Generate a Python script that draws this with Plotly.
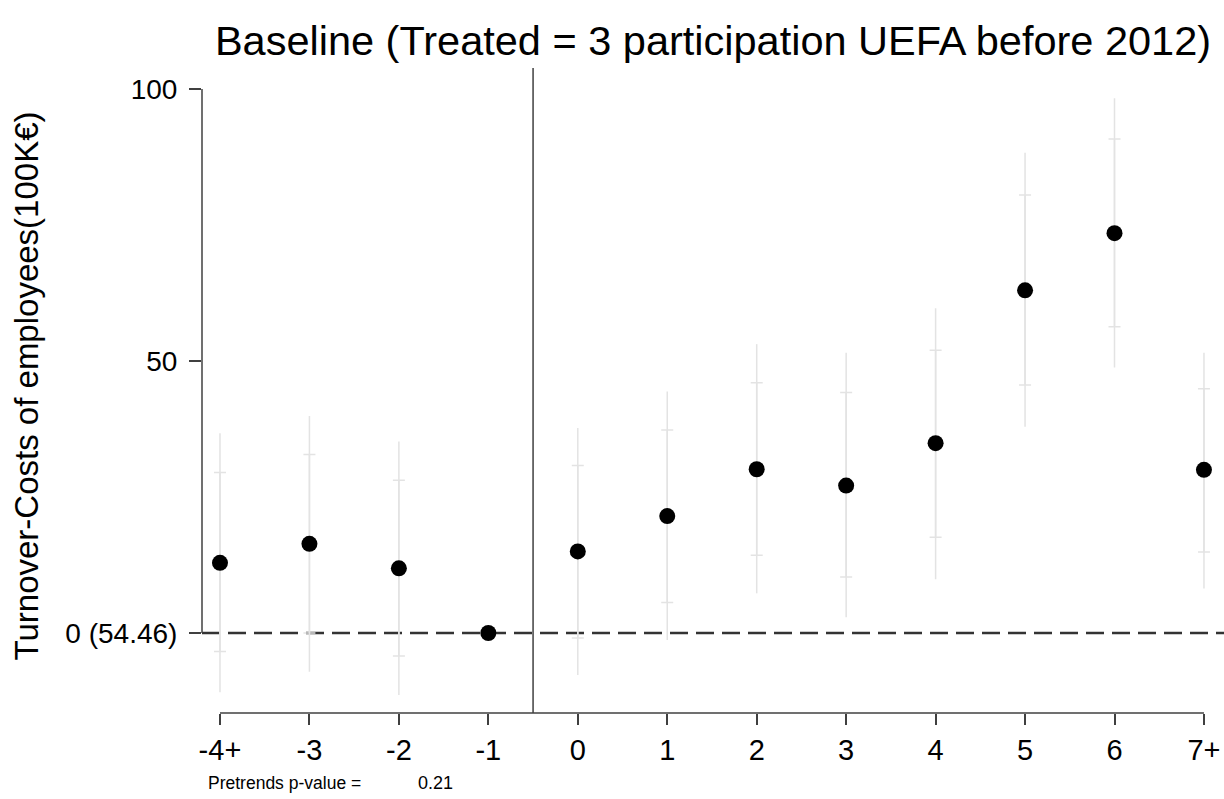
import plotly.graph_objects as go

# Event-time categories (relative to treatment)
periods = ["-4+", "-3", "-2", "-1", "0", "1", "2", "3", "4", "5", "6", "7+"]

# Point estimates (relative to baseline mean 54.46)
estimates = [12.9, 16.4, 11.9, 0.0, 15.0, 21.5, 30.1, 27.1, 34.9, 63.0, 73.5, 30.0]

# Outer confidence interval (no caps)
ci_outer_lo = [-10.9, -7.1, -11.4, 0.0, -7.7, -1.3, 7.3, 2.9, 9.9, 37.9, 48.8, 8.2]
ci_outer_hi = [36.7, 39.9, 35.2, 0.0, 37.7, 44.4, 53.1, 51.5, 59.7, 88.3, 98.3, 51.5]

# Inner confidence interval (capped)
ci_inner_lo = [-3.4, 0.0, -4.2, 0.0, -0.9, 5.6, 14.3, 10.3, 17.6, 45.6, 56.3, 14.9]
ci_inner_hi = [29.5, 32.8, 28.1, 0.0, 30.8, 37.3, 46.0, 44.2, 52.0, 80.5, 90.8, 44.9]

y_ticks = [0, 50, 100]
y_tick_labels = ["0 (54.46)", "50", "100"]

title_text = "Baseline (Treated = 3 participation UEFA before 2012)"
y_title = "Turnover-Costs of employees(100K€)"
pretrend_label = "Pretrends p-value ="
pretrend_value = "0.21"

FONT = "Liberation Sans, Arial, Helvetica, sans-serif"
AXIS_COLOR = "#404040"
CI_COLOR = "#e3e3e3"

xs = list(range(len(periods)))
fig = go.Figure()

fig.add_trace(go.Scatter(
    x=xs, y=estimates, mode="markers",
    marker=dict(size=16, color="black", opacity=0),
    error_y=dict(
        type="data", symmetric=False,
        array=[h - e for h, e in zip(ci_outer_hi, estimates)],
        arrayminus=[e - l for l, e in zip(ci_outer_lo, estimates)],
        color=CI_COLOR, thickness=1.5, width=0,
    ),
    hoverinfo="skip", showlegend=False,
))

fig.add_trace(go.Scatter(
    x=xs, y=estimates, mode="markers",
    marker=dict(size=16, color="black"),
    error_y=dict(
        type="data", symmetric=False,
        array=[h - e for h, e in zip(ci_inner_hi, estimates)],
        arrayminus=[e - l for l, e in zip(ci_inner_lo, estimates)],
        color=CI_COLOR, thickness=1.5, width=6,
    ),
    showlegend=False,
))

shapes = [
    # reference line at zero
    dict(type="line", xref="paper", x0=0, x1=1, yref="y", y0=0, y1=0,
         line=dict(color="#333333", width=2.5, dash="18px,8px"), layer="below"),
    # treatment onset
    dict(type="line", xref="x", x0=3.5, x1=3.5, yref="paper", y0=0, y1=1,
         line=dict(color=AXIS_COLOR, width=1.5)),
    # y axis spine over the tick range
    dict(type="line", xref="paper", x0=0, x1=0, yref="y", y0=y_ticks[0], y1=y_ticks[-1],
         line=dict(color=AXIS_COLOR, width=1.5)),
    # x axis spine over the category range
    dict(type="line", xref="x", x0=xs[0], x1=xs[-1], yref="paper", y0=0, y1=0,
         line=dict(color=AXIS_COLOR, width=1.5)),
]

annotations = [
    dict(text=y_title, textangle=-90, xref="paper", yref="paper", x=0, y=0.5,
         xanchor="center", yanchor="middle", xshift=-176, yshift=4, showarrow=False,
         font=dict(family=FONT, size=33, color="black")),
    dict(text=pretrend_label, xref="paper", yref="paper", x=0, y=0,
         xanchor="left", yanchor="middle", xshift=4, yshift=-70, showarrow=False,
         font=dict(family=FONT, size=17.5, color="black")),
    dict(text=pretrend_value, xref="paper", yref="paper", x=0, y=0,
         xanchor="left", yanchor="middle", xshift=214, yshift=-70, showarrow=False,
         font=dict(family=FONT, size=18, color="black")),
]

fig.update_layout(
    width=1224, height=799,
    margin=dict(l=202, r=0, t=68, b=86),
    paper_bgcolor="white", plot_bgcolor="white",
    title=dict(text=title_text, x=0.5, xref="paper", xanchor="center",
               y=1 - 40 / 799, yref="container", yanchor="middle",
               font=dict(family=FONT, size=41.5, color="black")),
    shapes=shapes, annotations=annotations,
    xaxis=dict(
        range=[-0.201, 11.224], tickmode="array", tickvals=xs, ticktext=periods,
        showgrid=False, zeroline=False, showline=False,
        ticks="outside", ticklen=11, tickwidth=1.5, tickcolor=AXIS_COLOR,
        tickfont=dict(family=FONT, size=29, color="black"), ticklabelstandoff=0,
    ),
    yaxis=dict(
        range=[-14.7, 103.86], tickmode="array", tickvals=y_ticks, ticktext=y_tick_labels,
        showgrid=False, zeroline=False, showline=False,
        ticks="outside", ticklen=12, tickwidth=1.5, tickcolor=AXIS_COLOR,
        tickfont=dict(family=FONT, size=28, color="black"), ticklabelstandoff=6,
    ),
)

fig.write_html("out.html")
